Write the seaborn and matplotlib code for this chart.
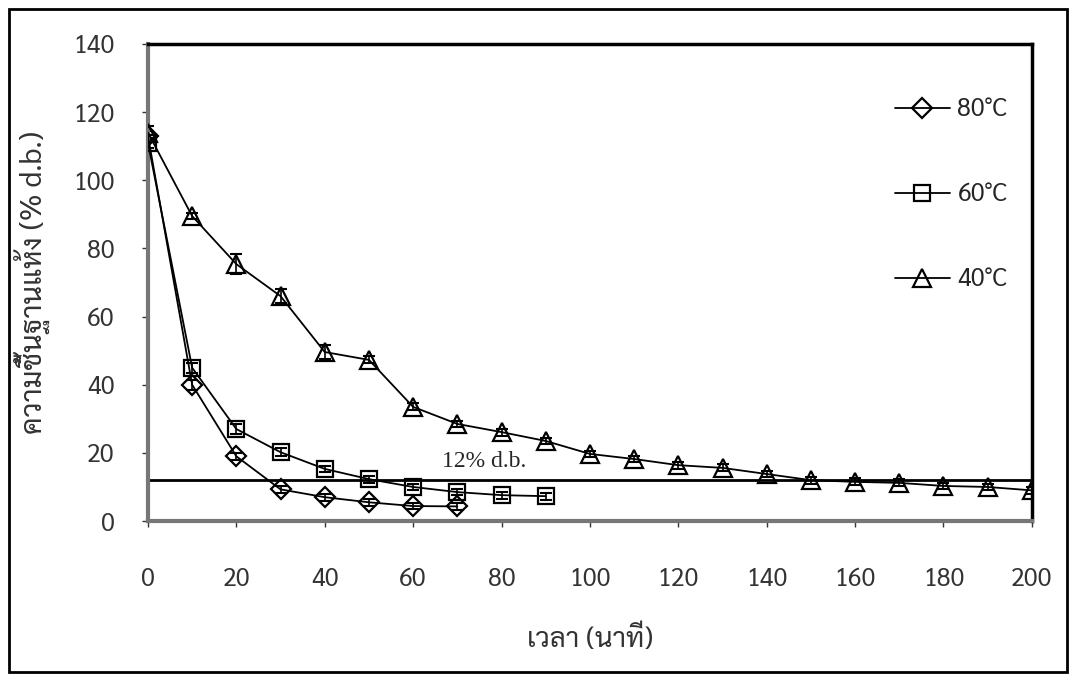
import matplotlib.pyplot as plt
import matplotlib.patches as mpatches
import seaborn as sns
import pandas as pd

# drying time (min) and moisture content (% d.b.)
t_80 = [0, 10, 20, 30, 40, 50, 60, 70]
mc_80 = [113, 40, 19, 9.3, 7, 5.5, 4.4, 4.3]
sd_80 = [1.5, 1.5, 1.0, 1.0, 1.0, 1.0, 1.0, 1.0]

t_60 = [0, 10, 20, 30, 40, 50, 60, 70, 80, 90]
mc_60 = [111, 45, 27, 20.2, 15.3, 12.3, 10, 8.5, 7.6, 7.3]
sd_60 = [1.5, 1.5, 1.5, 1.2, 1.0, 1.0, 1.0, 1.0, 1.0, 1.0]

t_40 = [0, 10, 20, 30, 40, 50, 60, 70, 80, 90, 100,
        110, 120, 130, 140, 150, 160, 170, 180, 190, 200]
mc_40 = [114, 89.5, 75.4, 66, 49.6, 47.3, 33.5, 28.5, 26.1, 23.5, 19.7,
         18.2, 16.4, 15.6, 13.8, 12, 11.5, 11.2, 10.3, 10, 9]
sd_40 = [2.0, 1.0, 3.0, 2.0, 2.0, 1.0, 1.0, 1.0, 1.0, 1.0, 1.0,
         1.0, 1.0, 1.0, 1.0, 1.0, 1.0, 1.0, 1.0, 1.0, 1.0]

limit_mc = 12

sns.set_theme(style="white")
plt.rcParams['font.family'] = ['Sarabun', 'Noto Sans Thai', 'DejaVu Sans']

fig = plt.figure(figsize=(10.76, 6.82), dpi=100)
ax = fig.add_axes([0.1375, 0.236, 0.8215, 0.6995])

series = [
    ("80°C", t_80, mc_80, sd_80, "D", 10),
    ("60°C", t_60, mc_60, sd_60, "s", 11),
    ("40°C", t_40, mc_40, sd_40, "^", 13),
]

for label, t, mc, sd, mk, ms in series:
    df = pd.DataFrame({"t": t, "mc": mc})
    ax.errorbar(t, mc, yerr=sd, fmt="none", ecolor="black",
                elinewidth=1.2, capsize=4, capthick=1.5, zorder=2)
    sns.lineplot(data=df, x="t", y="mc", ax=ax, color="black", lw=1.3,
                 marker=mk, markersize=ms, markerfacecolor="none",
                 markeredgecolor="black", markeredgewidth=1.6,
                 label=label, zorder=3)

ax.axhline(limit_mc, xmin=0, xmax=1, color="black", lw=2, zorder=1)
ax.text(76, limit_mc + 2.3, "12% d.b.", fontsize=17,
        family="Liberation Serif", ha="center", va="bottom")

ax.set_xlim(0, 200)
ax.set_ylim(0, 140)
ax.set_xticks(range(0, 201, 20))
ax.set_yticks(range(0, 141, 20))
ax.tick_params(axis="both", labelsize=18, colors="#333333",
               length=4, width=1, direction="out")
ax.tick_params(axis="x", pad=29)
ax.tick_params(axis="y", pad=20)
ax.xaxis.set_ticks_position("bottom")
ax.yaxis.set_ticks_position("left")

ax.spines["top"].set_linewidth(2.5)
ax.spines["right"].set_linewidth(2.5)
ax.spines["left"].set_linewidth(3)
ax.spines["bottom"].set_linewidth(3)
ax.spines["left"].set_color("#777777")
ax.spines["bottom"].set_color("#777777")
ax.spines["top"].set_color("black")
ax.spines["right"].set_color("black")

ax.set_xlabel("เวลา (นาที)", fontsize=20, labelpad=24, color="#333333")
ax.set_ylabel("ความชื้นฐานแห้ง (% d.b.)", fontsize=21, labelpad=16,
              color="#333333")

ax.legend(loc="upper right", bbox_to_anchor=(0.998, 0.935), frameon=False,
          fontsize=18, labelspacing=2.4, handlelength=2.2, handletextpad=0.3)

# outer frame around the whole figure
fig.patches.append(mpatches.Rectangle((0.008, 0.015), 0.984, 0.972,
                                      transform=fig.transFigure, fill=False,
                                      edgecolor="black", lw=2))

plt.savefig("out.png", dpi=100)
plt.close()
